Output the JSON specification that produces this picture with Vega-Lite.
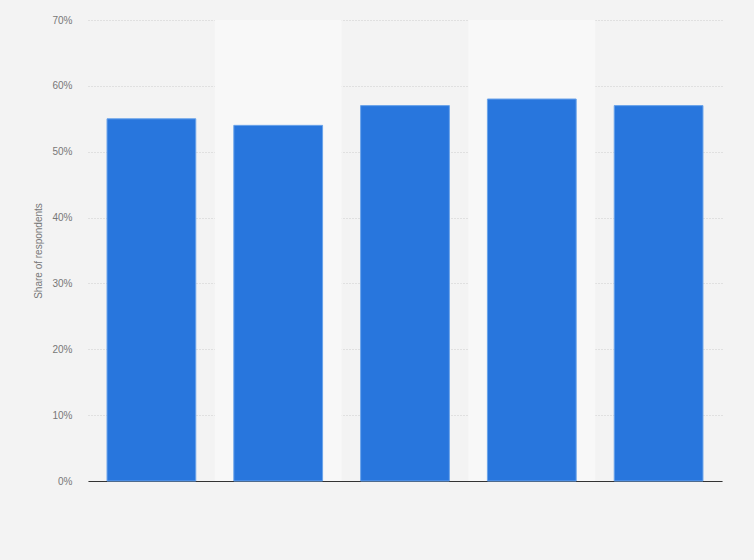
{
  "$schema": "https://vega.github.io/schema/vega-lite/v6.json",
  "width": 634,
  "height": 461,
  "autosize": {"type": "none"},
  "padding": {"left": 88, "top": 20, "right": 32, "bottom": 79},
  "background": "#f3f3f3",
  "config": {
    "view": {"stroke": null},
    "font": "Liberation Sans"
  },
  "data": {
    "values": [
      {"category": "A", "share": 55},
      {"category": "B", "share": 54},
      {"category": "C", "share": 57},
      {"category": "D", "share": 58},
      {"category": "E", "share": 57}
    ]
  },
  "layer": [
    {
      "transform": [{"filter": "datum.category == 'B' || datum.category == 'D'"}],
      "mark": {"type": "rect", "color": "#f8f8f8"},
      "encoding": {
        "x": {"field": "category", "type": "nominal", "sort": null,
              "scale": {"domain": ["A","B","C","D","E"], "paddingInner": 0, "paddingOuter": 0},
              "axis": null},
        "y": {"datum": 70, "type": "quantitative"},
        "y2": {"datum": 0}
      }
    },
    {
      "mark": {"type": "bar", "color": "#2876dd", "stroke": "#6aa3ea", "strokeWidth": 1},
      "encoding": {
        "x": {"field": "category", "type": "nominal", "sort": null,
              "scale": {"paddingInner": 0.3, "paddingOuter": 0.15},
              "axis": {"labels": false, "ticks": false, "title": null, "domainColor": "#333333", "domainWidth": 1, "grid": false}},
        "y": {"field": "share", "type": "quantitative",
              "scale": {"domain": [0, 70], "nice": false},
              "axis": {
                "values": [0, 10, 20, 30, 40, 50, 60, 70],
                "labelExpr": "datum.value + '%'",
                "title": "Share of respondents",
                "titleColor": "#777777",
                "titleFontSize": 10,
                "titleFontWeight": "normal",
                "titlePadding": 8,
                "labelColor": "#777777",
                "labelFontSize": 10,
                "labelPadding": 16,
                "ticks": false,
                "domain": false,
                "grid": true,
                "gridColor": "#cccccc",
                "gridDash": [1, 2],
                "gridWidth": 1
              }}
      }
    }
  ],
  "resolve": {"scale": {"x": "independent"}}
}
